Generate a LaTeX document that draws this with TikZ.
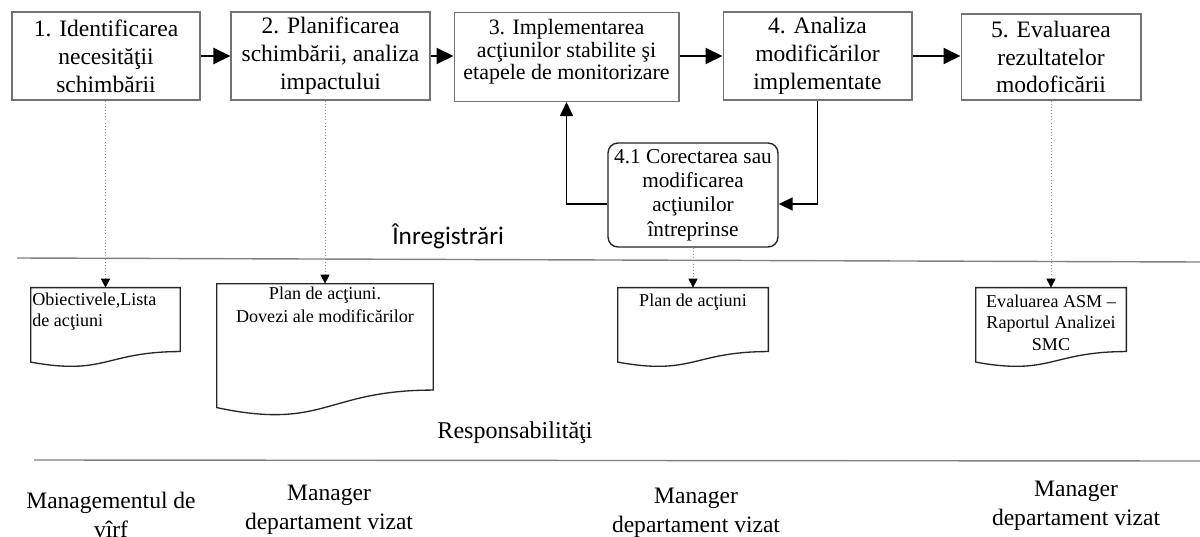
\documentclass[tikz,border=0pt]{standalone}
\usepackage{fontspec}
\setmainfont{Liberation Serif}
\newfontfamily\calibfont{Carlito}
\usetikzlibrary{arrows.meta,calc}
\newcommand\docdraw[1]{%
  \draw[docline] (#1.north west) -- (#1.north east)
    -- ($(#1.north east)!0.802!(#1.south east)$)
    .. controls ($(#1.north)!0.802!(#1.south)$) and ($(#1.north)!1.1075!(#1.south)$)
    .. ($(#1.north west)!0.934!(#1.south west)$) -- cycle;}
\begin{document}
\begin{tikzpicture}[x=0.02cm,y=-0.02cm,
  procbox/.style={draw=black!55, line width=0.6pt, inner sep=0pt, align=center, font=\fontsize{13.4pt}{15.9pt}\selectfont},
  roundbox/.style={draw=black!85, line width=0.8pt, rounded corners=0.2cm, inner sep=0pt, align=center, font=\fontsize{12.1pt}{13.9pt}\selectfont},
  docnode/.style={draw=none, inner sep=0pt},
  docline/.style={draw=black!85, line width=0.75pt},
  doctext/.style={inner sep=0pt, align=center, font=\fontsize{10.3pt}{12pt}\selectfont},
  mainconn/.style={draw=black, line width=1.1pt, -{Triangle[length=0.34cm,width=0.32cm]}},
  loopconn/.style={draw=black, line width=1pt, -{Triangle[length=0.28cm,width=0.26cm]}},
  dotconn/.style={draw=black!45, line width=0.5pt, dash pattern=on 0.5pt off 1.3pt, -{Triangle[length=0.18cm,width=0.18cm,color=black]}},
  sepline/.style={draw=black!50, line width=0.8pt},
  resptext/.style={inner sep=0pt, align=center, font=\fontsize{13.4pt}{16.5pt}\selectfont},
]
\useasboundingbox (0,0) rectangle (1200,537);
\fill[white] (0,0) rectangle (1200,537);

% separators
\draw[sepline] (17,258) -- (1200,262);
\draw[sepline] (34,460) -- (1200,461);

% process boxes
\node[procbox, minimum width=3.76cm, minimum height=1.76cm] (b1) at (106,56) {1. Identificarea\\necesităţii\\schimbării};
\node[procbox, minimum width=3.98cm, minimum height=1.76cm] (b2) at (330.5,56) {2. Planificarea\\schimbării, analiza\\impactului};
\node[procbox, minimum width=4.5cm, minimum height=1.78cm] (b3) at (566.5,57) {};
\node[inner sep=0pt, align=center, font=\fontsize{12.5pt}{12.7pt}\selectfont] (b3t) at (566.5,52) {3. Implementarea\\acţiunilor stabilite şi\\etapele de monitorizare};
\node[procbox, minimum width=3.78cm, minimum height=1.76cm] (b4) at (817.5,56) {4. Analiza\\modificărilor\\implementate};
\node[procbox, minimum width=3.6cm, minimum height=1.72cm] (b5) at (1051,57) {5. Evaluarea\\rezultatelor\\modoficării};
\node[roundbox, minimum width=3.4cm, minimum height=2.08cm] (b41) at (693,195) {4.1 Corectarea sau\\modificarea\\acţiunilor\\întreprinse};

% documents
\node[docnode, minimum width=2.98cm, minimum height=1.58cm] (d1) at (105.5,327.5) {};
\node[docnode, minimum width=4.32cm, minimum height=2.64cm] (d2) at (325,350) {};
\node[docnode, minimum width=3cm, minimum height=1.58cm] (d3) at (693,327.5) {};
\node[docnode, minimum width=3cm, minimum height=1.58cm] (d5) at (1051,327.5) {};
\docdraw{d1}
\docdraw{d2}
\docdraw{d3}
\docdraw{d5}
\node[doctext, anchor=north west, align=left] (t1) at (32,293) {Obiectivele,Lista\\de acţiuni};
\node[doctext, anchor=north, font=\fontsize{10.3pt}{13pt}\selectfont] (t2) at (325,287) {Plan de acţiuni.\\Dovezi ale modificărilor};
\node[doctext, anchor=north] (t3) at (693,294) {Plan de acţiuni};
\node[doctext, anchor=north] (t5) at (1051,295) {Evaluarea ASM –\\Raportul Analizei\\SMC};

% labels
\node[anchor=base west, inner sep=0pt, font=\calibfont\fontsize{14.4pt}{17pt}\selectfont] (reg) at (392,244) {Înregistrări};
\node[inner sep=0pt, font=\fontsize{13.7pt}{16pt}\selectfont] (resp) at (515,433) {Responsabilităţi};

\node[resptext] (r1) at (111,515) {Managementul de\\vîrf};
\node[resptext] (r2) at (329,510) {Manager\\departament vizat};
\node[resptext] (r3) at (696,513) {Manager\\departament vizat};
\node[resptext] (r4) at (1076,506) {Manager\\departament vizat};

% main flow
\draw[mainconn] (b1.east) -- (b2.west);
\draw[mainconn] (b2.east) -- (b3.west |- b2.east);
\draw[mainconn] (b3.east |- b4.west) -- (b4.west);
\draw[mainconn] (b4.east) -- (b4.east -| b5.west);

% loop
\draw[loopconn] ($(b41.west)+(0,9)$) -| (b3.south);
\draw[loopconn] (b4.south) |- ($(b41.east)+(0,9)$);

% dotted record links
\draw[dotconn] (d1.north |- b1.south) -- (d1.north);
\draw[dotconn] (d2.north |- b2.south) -- (d2.north);
\draw[dotconn] (b41.south) -- (d3.north);
\draw[dotconn] (b5.south) -- (d5.north);
\end{tikzpicture}
\end{document}
